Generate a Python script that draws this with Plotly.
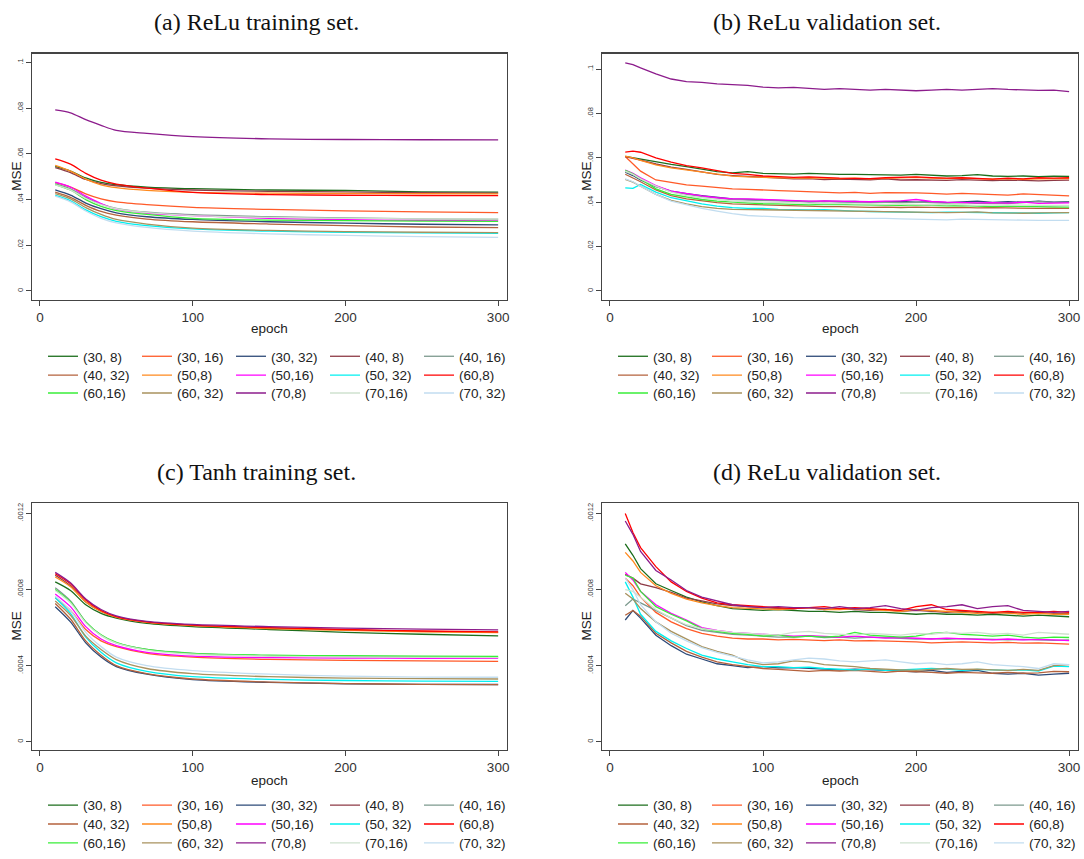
import plotly.graph_objects as go

W, H = 1084, 859

# ---------------- data ----------------
LABELS = ["(30, 8)", "(30, 16)", "(30, 32)", "(40, 8)", "(40, 16)",
          "(40, 32)", "(50,8)", "(50,16)", "(50, 32)", "(60,8)",
          "(60,16)", "(60, 32)", "(70,8)", "(70,16)", "(70, 32)"]

COLORS = ["#1c6e1c", "#ff5a28", "#2d4a78", "#8e3a46", "#7d9a8e",
          "#b4623c", "#ff8a1e", "#ff00ff", "#00f0f0", "#ff0000",
          "#38ee38", "#a8925e", "#8c1c8c", "#cfe2cf", "#c2ddf0"]

TITLES = ["(a) ReLu training set.", "(b) ReLu validation set.",
          "(c) Tanh training set.", "(d) ReLu validation set."]

X_TICKS = [0, 100, 200, 300]
Y_TICKS_RELU = [0, 0.02, 0.04, 0.06, 0.08, 0.1]
Y_TICKTEXT_RELU = ["0", ".02", ".04", ".06", ".08", ".1"]
Y_TICKS_TANH = [0, 0.0004, 0.0008, 0.0012]
Y_TICKTEXT_TANH = ["0", ".0004", ".0008", ".0012"]

# epochs for smooth (training) curves
EPOCHS_TRAIN = [10, 20, 30, 40, 50, 70, 100, 150, 200, 250, 300]
# epochs for noisy (validation) curves
EPOCHS_VAL = [10, 15, 20, 30, 40, 50, 60, 70, 80, 90, 100, 110, 120, 130, 140,
              150, 160, 170, 180, 190, 200, 210, 220, 230, 240, 250, 260, 270,
              280, 290, 300]

# (a) ReLu training, MSE in units of 1e-2
RELU_TRAIN = [
    [5.45, 5.25, 4.95, 4.75, 4.65, 4.55, 4.48, 4.42, 4.40, 4.34, 4.33],
    [4.74, 4.55, 4.25, 4.03, 3.90, 3.78, 3.66, 3.57, 3.51, 3.46, 3.43],
    [4.43, 4.20, 3.85, 3.60, 3.42, 3.25, 3.13, 3.03, 2.97, 2.92, 2.89],
    [5.40, 5.18, 4.88, 4.70, 4.60, 4.50, 4.42, 4.36, 4.34, 4.30, 4.28],
    [4.70, 4.47, 4.10, 3.80, 3.62, 3.45, 3.34, 3.25, 3.20, 3.16, 3.14],
    [4.33, 4.10, 3.75, 3.48, 3.32, 3.15, 3.03, 2.93, 2.86, 2.80, 2.77],
    [5.50, 5.25, 4.90, 4.65, 4.52, 4.40, 4.32, 4.28, 4.27, 4.26, 4.25],
    [4.77, 4.55, 4.15, 3.83, 3.58, 3.40, 3.30, 3.18, 3.12, 3.09, 3.07],
    [4.18, 3.95, 3.55, 3.25, 3.05, 2.86, 2.72, 2.62, 2.57, 2.54, 2.52],
    [5.78, 5.55, 5.15, 4.85, 4.68, 4.50, 4.32, 4.22, 4.19, 4.18, 4.17],
    [4.66, 4.42, 4.00, 3.70, 3.52, 3.35, 3.18, 3.10, 3.08, 3.06, 3.05],
    [4.26, 4.03, 3.65, 3.35, 3.13, 2.93, 2.75, 2.65, 2.60, 2.57, 2.55],
    [7.93, 7.80, 7.50, 7.25, 7.03, 6.90, 6.76, 6.66, 6.63, 6.62, 6.61],
    [4.65, 4.43, 4.05, 3.78, 3.60, 3.43, 3.30, 3.22, 3.18, 3.16, 3.15],
    [4.15, 3.90, 3.50, 3.18, 2.98, 2.78, 2.62, 2.50, 2.43, 2.38, 2.35],
]

# (b) ReLu validation, MSE in units of 1e-2
RELU_VAL = [
    [6.06, 6.00, 5.95, 5.80, 5.70, 5.60, 5.48, 5.38, 5.32, 5.38, 5.30, 5.28, 5.26, 5.30, 5.27, 5.25, 5.25, 5.23, 5.24, 5.22, 5.25, 5.22, 5.18, 5.20, 5.24, 5.18, 5.16, 5.18, 5.15, 5.17, 5.16],
    [6.06, 5.75, 5.40, 5.00, 4.88, 4.78, 4.72, 4.65, 4.60, 4.58, 4.54, 4.52, 4.50, 4.48, 4.44, 4.42, 4.44, 4.40, 4.43, 4.44, 4.42, 4.40, 4.36, 4.40, 4.38, 4.35, 4.32, 4.37, 4.35, 4.33, 4.28],
    [5.35, 5.20, 5.00, 4.70, 4.50, 4.38, 4.30, 4.22, 4.15, 4.12, 4.10, 4.08, 4.06, 4.00, 4.05, 4.02, 4.03, 4.00, 4.02, 4.04, 4.00, 4.02, 3.98, 4.00, 4.05, 3.99, 4.02, 4.00, 4.05, 4.00, 4.02],
    [6.05, 5.98, 5.90, 5.72, 5.58, 5.48, 5.36, 5.25, 5.20, 5.16, 5.12, 5.08, 5.05, 5.06, 5.02, 5.04, 5.03, 5.01, 5.05, 5.00, 5.01, 5.00, 4.98, 5.02, 4.98, 4.97, 5.00, 4.98, 4.96, 4.98, 4.99],
    [5.38, 5.25, 5.05, 4.72, 4.48, 4.35, 4.25, 4.18, 4.12, 4.10, 4.08, 4.06, 4.05, 4.03, 4.02, 4.04, 4.00, 4.02, 4.00, 3.98, 4.00, 3.98, 3.96, 3.98, 3.95, 3.96, 3.94, 3.98, 4.03, 3.99, 4.00],
    [5.26, 5.10, 4.92, 4.55, 4.30, 4.15, 4.05, 3.98, 3.92, 3.90, 3.86, 3.84, 3.82, 3.82, 3.80, 3.80, 3.78, 3.77, 3.78, 3.76, 3.78, 3.76, 3.75, 3.77, 3.74, 3.75, 3.73, 3.74, 3.72, 3.73, 3.72],
    [6.08, 6.00, 5.88, 5.68, 5.55, 5.45, 5.35, 5.25, 5.17, 5.14, 5.12, 5.10, 5.08, 5.10, 5.07, 5.06, 5.08, 5.05, 5.07, 5.10, 5.12, 5.08, 5.06, 5.08, 5.05, 5.04, 5.06, 5.03, 5.05, 5.04, 5.06],
    [5.44, 5.30, 5.10, 4.75, 4.50, 4.38, 4.28, 4.20, 4.15, 4.15, 4.12, 4.10, 4.08, 4.05, 4.06, 4.05, 4.04, 4.02, 4.05, 4.06, 4.12, 4.03, 4.00, 3.98, 3.97, 3.98, 3.96, 4.00, 3.95, 3.96, 3.97],
    [4.64, 4.62, 4.80, 4.45, 4.20, 4.05, 3.92, 3.82, 3.75, 3.72, 3.72, 3.68, 3.66, 3.65, 3.66, 3.62, 3.60, 3.58, 3.56, 3.55, 3.55, 3.53, 3.55, 3.54, 3.52, 3.53, 3.52, 3.51, 3.50, 3.52, 3.53],
    [6.26, 6.30, 6.25, 6.00, 5.80, 5.65, 5.55, 5.42, 5.30, 5.25, 5.18, 5.15, 5.12, 5.14, 5.10, 5.08, 5.07, 5.06, 5.10, 5.12, 5.14, 5.11, 5.08, 5.10, 5.06, 5.04, 5.08, 5.05, 5.10, 5.08, 5.10],
    [5.44, 5.28, 5.05, 4.60, 4.35, 4.22, 4.12, 4.05, 4.00, 3.95, 3.93, 3.92, 3.90, 3.88, 3.90, 3.89, 3.88, 3.86, 3.88, 3.86, 3.88, 3.85, 3.83, 3.85, 3.82, 3.80, 3.82, 3.80, 3.78, 3.79, 3.78],
    [5.03, 4.90, 4.72, 4.35, 4.08, 3.92, 3.80, 3.72, 3.68, 3.67, 3.66, 3.64, 3.62, 3.60, 3.60, 3.58, 3.60, 3.58, 3.56, 3.54, 3.55, 3.52, 3.53, 3.54, 3.56, 3.52, 3.50, 3.50, 3.52, 3.51, 3.53],
    [10.28, 10.20, 10.05, 9.78, 9.55, 9.43, 9.40, 9.33, 9.30, 9.26, 9.18, 9.15, 9.17, 9.12, 9.08, 9.12, 9.07, 9.05, 9.08, 9.06, 9.02, 9.05, 9.08, 9.05, 9.10, 9.12, 9.08, 9.05, 9.04, 9.05, 8.98],
    [5.40, 5.25, 5.05, 4.72, 4.45, 4.30, 4.20, 4.12, 4.05, 4.02, 4.00, 3.98, 3.96, 3.95, 3.94, 3.95, 3.92, 3.93, 3.90, 3.92, 3.90, 3.88, 3.90, 3.88, 3.86, 3.88, 3.87, 3.85, 3.86, 3.84, 3.85],
    [5.05, 4.92, 4.72, 4.35, 4.05, 3.88, 3.72, 3.60, 3.48, 3.40, 3.36, 3.32, 3.30, 3.29, 3.30, 3.28, 3.27, 3.28, 3.27, 3.25, 3.23, 3.24, 3.20, 3.24, 3.22, 3.21, 3.20, 3.19, 3.18, 3.17, 3.18],
]

# (c) Tanh training, MSE in units of 1e-4
TANH_TRAIN = [
    [8.40, 7.95, 7.20, 6.75, 6.50, 6.22, 6.05, 5.90, 5.75, 5.65, 5.57],
    [7.57, 6.90, 5.90, 5.30, 5.00, 4.65, 4.45, 4.33, 4.28, 4.25, 4.23],
    [7.10, 6.30, 5.20, 4.45, 3.95, 3.55, 3.27, 3.12, 3.05, 3.02, 3.01],
    [8.75, 8.20, 7.35, 6.85, 6.55, 6.28, 6.12, 5.98, 5.88, 5.80, 5.76],
    [8.09, 7.40, 6.30, 5.60, 5.20, 4.85, 4.65, 4.52, 4.48, 4.46, 4.45],
    [7.27, 6.45, 5.30, 4.55, 4.00, 3.58, 3.30, 3.14, 3.06, 3.02, 3.00],
    [8.66, 8.15, 7.35, 6.85, 6.55, 6.27, 6.10, 5.95, 5.85, 5.78, 5.74],
    [7.77, 7.10, 6.05, 5.40, 5.05, 4.70, 4.50, 4.42, 4.40, 4.39, 4.38],
    [7.57, 6.75, 5.50, 4.70, 4.15, 3.70, 3.42, 3.28, 3.22, 3.19, 3.17],
    [8.83, 8.30, 7.45, 6.90, 6.58, 6.30, 6.13, 6.00, 5.90, 5.82, 5.77],
    [8.00, 7.35, 6.30, 5.62, 5.22, 4.85, 4.64, 4.55, 4.52, 4.50, 4.49],
    [7.40, 6.65, 5.55, 4.85, 4.32, 3.85, 3.58, 3.42, 3.35, 3.32, 3.30],
    [8.90, 8.35, 7.50, 6.95, 6.62, 6.33, 6.17, 6.05, 5.97, 5.92, 5.88],
    [7.95, 7.30, 6.25, 5.58, 5.18, 4.82, 4.60, 4.50, 4.46, 4.44, 4.42],
    [7.65, 6.90, 5.75, 5.00, 4.45, 4.00, 3.74, 3.55, 3.45, 3.40, 3.39],
]

# (d) validation, MSE in units of 1e-4
TANH_VAL = [
    [10.4, 9.8, 9.1, 8.3, 7.95, 7.6, 7.35, 7.15, 7.0, 6.95, 6.9, 6.95, 6.9, 6.85, 6.85, 6.8, 6.85, 6.8, 6.8, 6.75, 6.7, 6.75, 6.7, 6.7, 6.65, 6.7, 6.65, 6.6, 6.65, 6.6, 6.57],
    [8.6, 8.2, 7.6, 6.8, 6.3, 5.95, 5.7, 5.55, 5.45, 5.4, 5.4, 5.35, 5.38, 5.35, 5.32, 5.35, 5.3, 5.32, 5.3, 5.28, 5.25, 5.2, 5.22, 5.25, 5.22, 5.2, 5.22, 5.18, 5.2, 5.15, 5.13],
    [6.4, 6.9, 6.5, 5.6, 5.05, 4.6, 4.35, 4.1, 4.0, 3.9, 3.95, 3.88, 3.9, 3.85, 3.82, 3.78, 3.82, 3.8, 3.75, 3.72, 3.68, 3.75, 3.65, 3.7, 3.75, 3.6, 3.55, 3.6, 3.5, 3.55, 3.6],
    [8.8, 8.6, 8.3, 8.1, 7.85, 7.55, 7.4, 7.25, 7.15, 7.1, 7.05, 7.0, 7.0, 7.05, 6.95, 7.0, 6.95, 6.9, 6.95, 6.85, 6.9, 6.85, 6.8, 6.85, 6.8, 6.75, 6.8, 6.75, 6.8, 6.75, 6.75],
    [7.15, 7.5, 7.3, 6.9, 6.5, 6.1, 5.85, 5.75, 5.65, 5.6, 5.55, 5.5, 5.5, 5.55, 5.48, 5.5, 5.45, 5.5, 5.48, 5.45, 5.4, 5.42, 5.38, 5.42, 5.4, 5.38, 5.36, 5.38, 5.35, 5.33, 5.35],
    [6.65, 6.9, 6.6, 5.7, 5.2, 4.75, 4.45, 4.2, 4.05, 3.95, 3.85, 3.8, 3.75, 3.7, 3.75, 3.72, 3.75, 3.7, 3.65, 3.72, 3.7, 3.65, 3.6, 3.65, 3.62, 3.6, 3.65, 3.6, 3.62, 3.7, 3.68],
    [9.95, 9.5, 8.9, 8.2, 7.8, 7.5, 7.3, 7.15, 7.05, 7.0, 6.98, 6.95, 7.0, 7.05, 6.95, 6.95, 7.0, 6.95, 6.9, 6.85, 6.95, 6.9, 6.85, 6.8, 6.75, 6.8, 6.75, 6.7, 6.75, 6.7, 6.7],
    [8.9, 8.5, 7.9, 7.2, 6.75, 6.4, 6.0, 5.85, 5.75, 5.7, 5.62, 5.6, 5.55, 5.58, 5.55, 5.5, 5.55, 5.5, 5.45, 5.48, 5.45, 5.4, 5.45, 5.4, 5.38, 5.35, 5.4, 5.35, 5.38, 5.35, 5.32],
    [8.4, 7.6, 6.7, 5.8, 5.3, 4.9, 4.55, 4.35, 4.2, 4.05, 3.95, 3.95, 3.9, 3.92, 3.85, 3.8, 3.78, 3.82, 3.75, 3.78, 3.8, 3.85, 3.82, 3.75, 3.8, 3.78, 3.75, 3.78, 3.72, 3.98, 3.95],
    [12.0, 11.0, 10.2, 9.2, 8.4, 7.9, 7.55, 7.3, 7.2, 7.15, 7.1, 7.05, 7.0, 7.05, 7.1, 7.0, 7.05, 7.0, 6.95, 6.9, 7.1, 7.2, 6.95, 6.9, 6.85, 6.8, 6.85, 6.8, 6.8, 6.85, 6.8],
    [8.75, 8.6, 7.9, 7.1, 6.7, 6.35, 5.95, 5.8, 5.7, 5.65, 5.55, 5.6, 5.5, 5.55, 5.5, 5.55, 5.75, 5.6, 5.55, 5.5, 5.55, 5.7, 5.75, 5.65, 5.6, 5.55, 5.6, 5.5, 5.45, 5.5, 5.48],
    [7.8, 7.5, 7.0, 6.3, 5.8, 5.4, 5.0, 4.75, 4.55, 4.2, 4.05, 4.1, 4.25, 4.2, 4.05, 4.0, 3.95, 3.85, 3.8, 3.78, 3.75, 3.8, 3.85, 3.8, 3.82, 3.78, 3.75, 3.8, 3.75, 4.0, 4.05],
    [11.6, 10.9, 10.0, 9.0, 8.5, 7.95, 7.6, 7.4, 7.2, 7.1, 7.05, 7.1, 7.05, 7.05, 7.0, 7.1, 7.0, 7.05, 7.15, 7.0, 6.9, 7.05, 7.1, 7.2, 7.0, 7.1, 7.15, 6.9, 6.85, 6.8, 6.85],
    [8.0, 7.9, 7.6, 6.95, 6.5, 6.15, 5.95, 5.85, 5.75, 5.7, 5.65, 5.6, 5.75, 5.8, 5.7, 5.65, 5.6, 5.7, 5.65, 5.6, 5.7, 5.65, 5.75, 5.7, 5.75, 5.65, 5.7, 5.6, 5.75, 5.7, 5.65],
    [8.6, 8.0, 7.2, 6.3, 5.7, 5.3, 4.95, 4.7, 4.5, 4.3, 4.15, 4.2, 4.3, 4.4, 4.35, 4.25, 4.2, 4.25, 4.3, 4.2, 4.1, 4.15, 4.05, 4.1, 4.2, 4.05, 4.0, 3.95, 3.85, 4.1, 4.05],
]

UNIT_RELU = 1e-2
UNIT_TANH = 1e-4

# ---------------- layout helpers ----------------
def px_x(p):
    return p / W

def px_y(p):
    return 1 - p / H

# plot frames in pixels: (left, right, top, bottom)
FRAMES = [(32, 507, 54, 302), (602, 1078, 54, 302),
          (32, 507, 507, 755), (602, 1078, 507, 755)]
YRANGES = [[-0.0039, 0.1039], [-0.00403, 0.10694],
           [-0.0000417, 0.0012522], [-0.0000417, 0.0012522]]
XRANGE = [-5.2, 305.8]

PANELS = [
    (EPOCHS_TRAIN, RELU_TRAIN, UNIT_RELU, "spline"),
    (EPOCHS_VAL, RELU_VAL, UNIT_RELU, "linear"),
    (EPOCHS_TRAIN, TANH_TRAIN, UNIT_TANH, "spline"),
    (EPOCHS_VAL, TANH_VAL, UNIT_TANH, "linear"),
]

LEG_ROWS = [[359, 378, 396], [359, 378, 396], [811, 830, 849], [811, 830, 849]]
LEG_X = [43, 613, 43, 613]
EPOCH_GAP = [29, 29, 31, 31]

fig = go.Figure()
layout = dict(
    width=W, height=H, autosize=False,
    margin=dict(l=0, r=0, t=0, b=0),
    paper_bgcolor="white", plot_bgcolor="white",
    template="none",
    font=dict(family="Liberation Sans, Arial, sans-serif", color="#333"),
    annotations=[],
)

for p, (ep, table, unit, shape) in enumerate(PANELS):
    xa = "x" if p == 0 else f"x{p+1}"
    ya = "y" if p == 0 else f"y{p+1}"
    for i, vals in enumerate(table):
        row = i // 5
        lg_idx = p * 3 + row
        lg = "legend" if lg_idx == 0 else f"legend{lg_idx+1}"
        fig.add_trace(go.Scatter(
            x=ep, y=[v * unit for v in vals], mode="lines",
            line=dict(color=COLORS[i], width=1.3, shape=shape, smoothing=0.8),
            name=LABELS[i], legend=lg, xaxis=xa, yaxis=ya,
            hoverinfo="skip",
        ))
    l, r, t, b = FRAMES[p]
    xkey = "xaxis" if p == 0 else f"xaxis{p+1}"
    ykey = "yaxis" if p == 0 else f"yaxis{p+1}"
    relu = p < 2
    layout[xkey] = dict(
        domain=[px_x(l), px_x(r)], anchor=ya, range=XRANGE,
        tickmode="array", tickvals=X_TICKS, ticks="outside", ticklen=5,
        tickwidth=1, tickcolor="#444", showline=True, linecolor="#444",
        linewidth=1.2, mirror=True, showgrid=False, zeroline=False,
        tickfont=dict(size=13.5, color="#333"), automargin=False,
    )
    layout[ykey] = dict(
        domain=[px_y(b), px_y(t)], anchor=xa, range=YRANGES[p],
        tickmode="array",
        tickvals=Y_TICKS_RELU if relu else Y_TICKS_TANH,
        ticktext=Y_TICKTEXT_RELU if relu else Y_TICKTEXT_TANH,
        tickangle=-90, ticks="outside", ticklen=5, tickwidth=1,
        tickcolor="#444", showline=True, linecolor="#444", linewidth=1.2,
        mirror=True, showgrid=False, zeroline=False,
        tickfont=dict(size=7.5, color="#333"), automargin=False,
    )
    cx = (l + r) / 2
    # panel title
    layout["annotations"].append(dict(
        text=TITLES[p], xref="paper", yref="paper",
        x=px_x(cx - 13), y=px_y(t - 32), xanchor="center", yanchor="middle",
        showarrow=False,
        font=dict(family="Liberation Serif, Times New Roman, serif", size=24, color="#111"),
    ))
    # y axis title
    layout["annotations"].append(dict(
        text="MSE", xref="paper", yref="paper", textangle=-90,
        x=px_x(l - 15), y=px_y((t + b) / 2), xanchor="center", yanchor="middle",
        showarrow=False, font=dict(size=13.5, color="#222"),
    ))
    # x axis title
    layout["annotations"].append(dict(
        text="epoch", xref="paper", yref="paper",
        x=px_x(cx), y=px_y(b + EPOCH_GAP[p]), xanchor="center", yanchor="middle",
        showarrow=False, font=dict(size=13.5, color="#222"),
    ))
    for row in range(3):
        lg_idx = p * 3 + row
        lg = "legend" if lg_idx == 0 else f"legend{lg_idx+1}"
        layout[lg] = dict(
            orientation="h", xref="paper", yref="paper",
            x=px_x(LEG_X[p]), xanchor="left",
            y=px_y(LEG_ROWS[p][row]), yanchor="middle",
            entrywidth=49, entrywidthmode="pixels",
            itemwidth=30, traceorder="normal", tracegroupgap=0,
            bgcolor="rgba(0,0,0,0)", borderwidth=0,
            font=dict(family="Liberation Sans, Arial, sans-serif", size=13.5, color="#222"),
        )

fig.update_layout(**layout)

# remove the browser's default page margin and scrollbars so the figure
# fills the 1084x859 window exactly
PAGE_CSS_JS = (
    "document.documentElement.style.margin='0';"
    "document.documentElement.style.overflow='hidden';"
    "document.body.style.margin='0';"
    "document.body.style.overflow='hidden';"
)
fig.write_html("out.html", post_script=PAGE_CSS_JS,
               config={"displayModeBar": False, "staticPlot": True})
